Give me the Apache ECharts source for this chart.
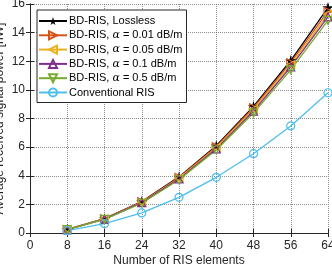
<!DOCTYPE html>
<html><head><meta charset="utf-8">
<script src="https://cdn.jsdelivr.net/npm/echarts@6/dist/echarts.min.js"></script>
<style>html,body{margin:0;padding:0;background:#fff}#c{width:332px;height:266px}</style>
</head><body><div id="c"></div>
<script>
const categories = [8, 16, 24, 32, 40, 48, 56, 64];
const lossless = [0.25, 1.0, 2.2, 3.92, 6.1, 8.85, 12.05, 15.75];
const a001 = [0.25, 0.99, 2.18, 3.88, 6.03, 8.75, 11.9, 15.5];
const a005 = [0.25, 0.98, 2.15, 3.83, 5.96, 8.64, 11.75, 15.3];
const a01 = [0.24, 0.97, 2.12, 3.78, 5.88, 8.52, 11.6, 15.1];
const a05 = [0.24, 0.95, 2.08, 3.72, 5.8, 8.38, 11.4, 14.85];
const conventional = [0.16, 0.65, 1.4, 2.49, 3.89, 5.54, 7.48, 9.8];
const xTicks = [0, 8, 16, 24, 32, 40, 48, 56, 64];
const yTicks = [0, 2, 4, 6, 8, 10, 12, 14, 16];

const star = 'path://M50,0 L61,35 L98,35 L68,57 L79,91 L50,70 L21,91 L32,57 L2,35 L39,35 Z';
const font = 'Liberation Sans, Arial, Helvetica, sans-serif';
function pts(arr){ return categories.map((x,i)=>[x, arr[i]]); }
function ser(name, data, color, symbol, rot, filled, size){
  return {
    name, type:'line', data: pts(data), symbol, symbolSize: size, symbolRotate: rot,
    lineStyle:{color, width:1.3},
    itemStyle:{color: filled ? color : 'rgba(255,255,255,0)', borderColor: color, borderWidth: filled?0:1.2},
    emphasis:{disabled:true}, z: 10
  };
}
const chart = echarts.init(document.getElementById('c'), null, {renderer:'canvas'});
const axisCommon = {
  type:'value', min:0,
  axisLine:{show:true, lineStyle:{color:'#262626', width:1}},
  axisTick:{show:true, inside:true, length:4, lineStyle:{color:'#262626'}},
  axisLabel:{color:'#262626', fontSize:12, fontFamily:font},
  splitLine:{show:false}
};
chart.setOption({
  animation:false,
  grid:{left:30, right:4, top:4, bottom:33, containLabel:false, outerBoundsMode:'none'},
  legend:{
    orient:'vertical', left:37, top:10, itemWidth:28, itemHeight:10, itemGap:2.3,
    backgroundColor:'#fff', borderColor:'#262626', borderWidth:1, borderRadius:0,
    padding:[5,4,4,1],
    textStyle:{fontSize:11, lineHeight:12, fontFamily:font, color:'#000', padding:[0,0,0,-3],
      rich:{i:{fontStyle:'italic', fontFamily:'DejaVu Serif, serif', fontSize:11, lineHeight:12}}},
    formatter: function(n){ return n.replace('α','{i|α}'); },
    data:['BD-RIS, Lossless','BD-RIS, α = 0.01 dB/m','BD-RIS, α = 0.05 dB/m','BD-RIS, α = 0.1 dB/m','BD-RIS, α = 0.5 dB/m','Conventional RIS']
  },
  xAxis:[
    Object.assign({}, axisCommon, {max:64, interval:8, name:'Number of RIS elements', nameLocation:'middle', nameGap:22,
      nameMoveOverlap:false,
      nameTextStyle:{fontSize:12, fontFamily:font, color:'#262626'},
      axisLabel:{color:'#262626', fontSize:12, fontFamily:font, margin:7},
      splitLine:{show:true, lineStyle:{color:'#5a5a5a', type:[1,1], width:1, opacity:0.7}}}),
    Object.assign({}, axisCommon, {max:64, interval:8, position:'top', axisLabel:{show:false}})
  ],
  yAxis:[
    Object.assign({}, axisCommon, {max:16, interval:2, name:'Average received signal power [nW]', nameLocation:'middle', nameGap:24,
      nameMoveOverlap:false,
      nameTextStyle:{fontSize:12, fontFamily:font, color:'#262626'},
      axisLabel:{color:'#262626', fontSize:12, fontFamily:font, margin:5},
      splitLine:{show:true, lineStyle:{color:'#5a5a5a', type:[1,1], width:1, opacity:0.7}}}),
    Object.assign({}, axisCommon, {max:16, interval:2, position:'right', axisLabel:{show:false}})
  ],
  series:[
    ser('BD-RIS, Lossless', lossless, '#000000', star, 0, true, 11),
    ser('BD-RIS, α = 0.01 dB/m', a001, '#D95319', 'triangle', -90, false, 8),
    ser('BD-RIS, α = 0.05 dB/m', a005, '#EDB120', 'triangle', 90, false, 8),
    ser('BD-RIS, α = 0.1 dB/m', a01, '#7E2F8E', 'triangle', 0, false, 8),
    ser('BD-RIS, α = 0.5 dB/m', a05, '#77AC30', 'triangle', 180, false, 8),
    ser('Conventional RIS', conventional, '#4DBEEE', 'circle', 0, false, 8)
  ]
});
</script></body></html>
